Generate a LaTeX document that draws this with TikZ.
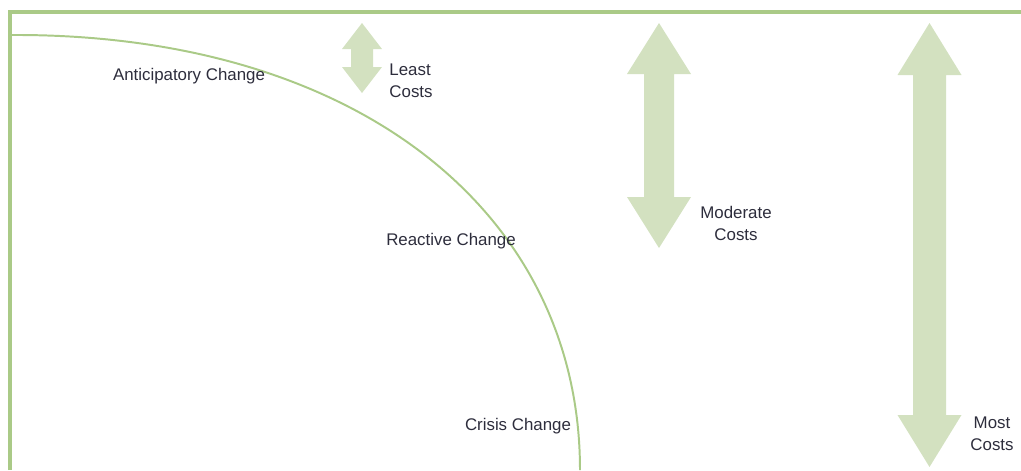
\documentclass[tikz,border=0pt]{standalone}
\usepackage{fontspec}
\setmainfont{Liberation Sans}
\definecolor{framegreen}{RGB}{170,202,135}
\definecolor{arrowgreen}{RGB}{211,225,192}
\definecolor{labelgray}{RGB}{45,45,60}
% double headed cost arrow: centre x, top y, bottom y, half head, half shaft, head length
\newcommand{\costarrow}[6]{%
  \fill[arrowgreen] (#1,#2) -- (#1+#4,#2+#6) -- (#1+#5,#2+#6) -- (#1+#5,#3-#6)
    -- (#1+#4,#3-#6) -- (#1,#3) -- (#1-#4,#3-#6) -- (#1-#5,#3-#6)
    -- (#1-#5,#2+#6) -- (#1-#4,#2+#6) -- cycle;}
\tikzset{
  frameline/.style={framegreen, line width=2.2pt},
  curveline/.style={framegreen, line width=1.4pt},
  lbl/.style={text=labelgray, font=\fontsize{12}{15.6}\selectfont, align=center, inner sep=0pt}
}
\begin{document}
\begin{tikzpicture}[x=0.025cm, y=-0.025cm]
\useasboundingbox (0,0) rectangle (1021,470);
% frame
\coordinate (TL) at (10,12);
\coordinate (TR) at (1021,12);
\coordinate (BL) at (10,470);
\draw[frameline] (BL) -- (TL) -- (TR);
% curve of change
\coordinate (C0) at (10,35);
\coordinate (C1) at (580,470);
\draw[curveline] (C0) .. controls (360,33) and (580,215) .. (C1);
% cost arrows
\costarrow{362}{23}{93}{20}{11}{26}
\costarrow{659}{23}{248}{32}{15}{51}
\costarrow{929.5}{23}{467}{32}{16.5}{52}
% labels
\node[lbl] (anticipatory) at (189,76) {Anticipatory Change};
\node[lbl, align=left] (least) at (411,81) {Least\\Costs};
\node[lbl] (reactive) at (451,241) {Reactive Change};
\node[lbl] (moderate) at (736,223) {Moderate\\Costs};
\node[lbl] (crisis) at (518,426) {Crisis Change};
\node[lbl] (most) at (992,434) {Most\\Costs};
\end{tikzpicture}
\end{document}
